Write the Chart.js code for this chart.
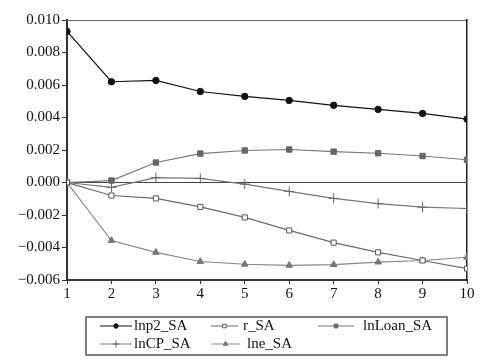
<!DOCTYPE html>
<html>
<head>
<meta charset="utf-8">
<script src="https://cdn.jsdelivr.net/npm/chart.js@4/dist/chart.umd.min.js"></script>
<style>
  html, body { margin: 0; padding: 0; background: #fff; }
  #wrap { width: 493px; height: 363px; position: relative; }
</style>
</head>
<body>
<div id="wrap"><canvas id="chart"></canvas></div>
<script>
// periods and response series
const periods = [1, 2, 3, 4, 5, 6, 7, 8, 9, 10];
const lnp2_SA = [0.0093, 0.0062, 0.00628, 0.0056, 0.0053, 0.00505, 0.00475, 0.0045, 0.00425, 0.0039];
const r_SA = [0, -0.0008, -0.00098, -0.0015, -0.00215, -0.00295, -0.0037, -0.0043, -0.0048, -0.0053];
const lnLoan_SA = [0, 0.00012, 0.00123, 0.00178, 0.00197, 0.00203, 0.0019, 0.0018, 0.00163, 0.0014];
const lnCP_SA = [0, -0.0003, 0.0003, 0.00025, -0.0001, -0.00055, -0.00098, -0.0013, -0.00152, -0.0016];
const lne_SA = [0, -0.00357, -0.0043, -0.00486, -0.00503, -0.0051, -0.00505, -0.0049, -0.0048, -0.0046];
const yTicks = [0.010, 0.008, 0.006, 0.004, 0.002, 0.000, -0.002, -0.004, -0.006];

const FONT = '"Liberation Serif", "DejaVu Serif", serif';

const series = [
  { label: 'lnp2_SA', data: lnp2_SA, line: '#111', style: 'circle', fill: '#111', stroke: '#111', r: 3.2 },
  { label: 'r_SA', data: r_SA, line: '#6a6a6a', style: 'rect', fill: '#fff', stroke: '#555', r: 3.6 },
  { label: 'lnLoan_SA', data: lnLoan_SA, line: '#777', style: 'rect', fill: '#666', stroke: '#666', r: 3.8 },
  { label: 'lnCP_SA', data: lnCP_SA, line: '#777', style: 'cross', fill: '#666', stroke: '#666', r: 5 },
  { label: 'lne_SA', data: lne_SA, line: '#888', style: 'triangle', fill: '#777', stroke: '#777', r: 3.8 }
];

// zero line + framed legend drawn on the canvas
const extras = {
  id: 'extras',
  beforeDatasetsDraw(chart) {
    const ctx = chart.ctx, a = chart.chartArea, y0 = chart.scales.y.getPixelForValue(0);
    ctx.save();
    ctx.strokeStyle = '#444';
    ctx.lineWidth = 1;
    ctx.beginPath();
    ctx.moveTo(a.left, y0);
    ctx.lineTo(a.right, y0);
    ctx.stroke();
    ctx.restore();
  },
  afterDraw(chart) {
    const ctx = chart.ctx;
    ctx.save();
    ctx.strokeStyle = '#555';
    ctx.lineWidth = 1.5;
    ctx.strokeRect(86, 317, 361, 38);
    const slots = [
      [100, 132, 134, 326], [211, 238, 243, 326], [318, 354, 363, 326],
      [100, 132, 134, 344], [211, 240, 247, 344]
    ];
    ctx.font = '15px ' + FONT;
    ctx.textBaseline = 'middle';
    series.forEach((s, i) => {
      const [x1, x2, tx, y] = slots[i];
      ctx.strokeStyle = s.line;
      ctx.lineWidth = 1;
      ctx.beginPath();
      ctx.moveTo(x1, y);
      ctx.lineTo(x2, y);
      ctx.stroke();
      ctx.fillStyle = s.fill;
      ctx.strokeStyle = s.stroke;
      Chart.helpers.drawPoint(ctx, {
        pointStyle: s.style, radius: s.r * 0.7, borderWidth: 1
      }, (x1 + x2) / 2, y);
      ctx.fillStyle = '#111';
      ctx.fillText(s.label, tx, y);
    });
    ctx.restore();
  }
};

new Chart(document.getElementById('chart'), {
  type: 'line',
  data: {
    labels: periods,
    datasets: series.map(s => ({
      label: s.label,
      data: s.data,
      borderColor: s.line,
      borderWidth: 1.2,
      pointStyle: s.style,
      pointRadius: s.r,
      pointBackgroundColor: s.fill,
      pointBorderColor: s.stroke,
      pointBorderWidth: 1,
      tension: 0
    }))
  },
  options: {
    responsive: true,
    maintainAspectRatio: false,
    animation: false,
    layout: { padding: { top: 20, right: 26, left: 0, bottom: 0 } },
    plugins: { legend: { display: false }, tooltip: { enabled: false } },
    scales: {
      x: {
        type: 'linear',
        min: 1, max: 10,
        afterFit: s => { s.height = 83; },
        afterBuildTicks: s => { s.ticks = periods.map(v => ({ value: v })); },
        grid: { drawOnChartArea: false, tickLength: 4, color: '#333' },
        border: { color: '#333', width: 2 },
        ticks: { color: '#111', font: { family: FONT, size: 15 }, padding: 1, maxRotation: 0 }
      },
      y: {
        min: -0.006, max: 0.010,
        afterFit: s => { s.width = 67; },
        afterBuildTicks: s => { s.ticks = yTicks.map(v => ({ value: v })); },
        grid: { drawOnChartArea: false, tickLength: 5, color: '#333' },
        border: { color: '#333', width: 2 },
        ticks: {
          color: '#111', font: { family: FONT, size: 15 }, padding: 2,
          callback: v => (v < 0 ? '\u2212' : '') + Math.abs(v).toFixed(3)
        }
      },
      x2: {
        type: 'linear', position: 'top', min: 1, max: 10,
        afterFit: s => { s.height = 0; },
        grid: { display: false }, ticks: { display: false },
        border: { color: '#666', width: 1 }
      },
      y2: {
        position: 'right', min: -0.006, max: 0.010,
        afterFit: s => { s.width = 0; },
        grid: { display: false }, ticks: { display: false },
        border: { color: '#222', width: 1.5 }
      }
    }
  },
  plugins: [extras]
});
</script>
</body>
</html>
